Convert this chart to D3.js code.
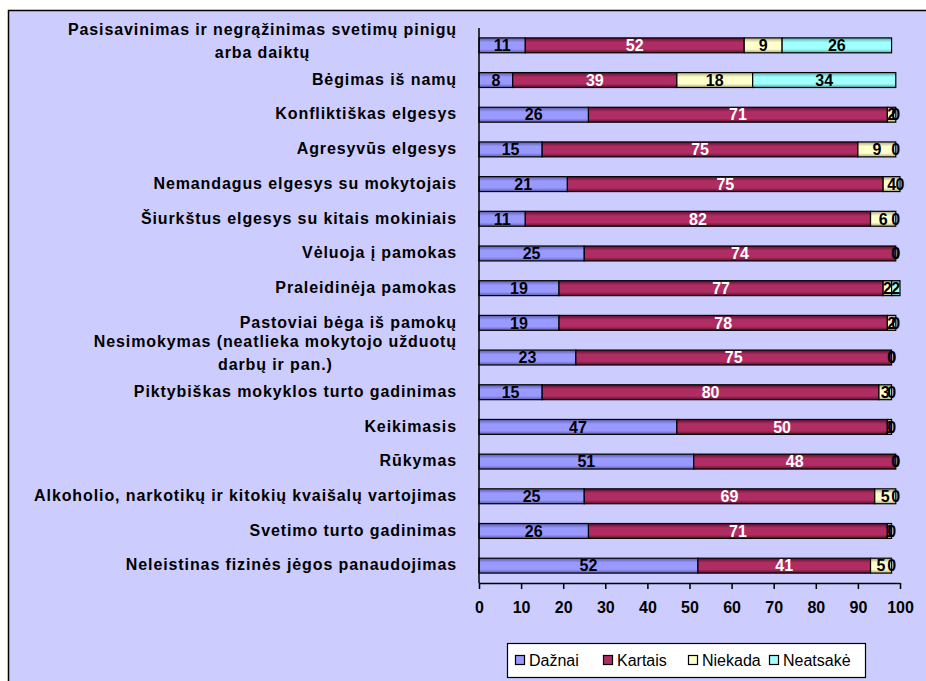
<!DOCTYPE html>
<html>
<head>
<meta charset="utf-8">
<script src="https://cdn.jsdelivr.net/npm/d3@7"></script>
<style>
  body { margin: 0; background: #fff; }
  svg { display: block; font-family: "Liberation Sans", Arial, sans-serif; }
</style>
</head>
<body>
<svg id="chart"></svg>
<script>
// categories top -> bottom
const categories = [
  "Pasisavinimas ir negrąžinimas svetimų pinigų\narba daiktų",
  "Bėgimas iš namų",
  "Konfliktiškas elgesys",
  "Agresyvūs elgesys",
  "Nemandagus elgesys su mokytojais",
  "Šiurkštus elgesys su kitais mokiniais",
  "Vėluoja į pamokas",
  "Praleidinėja pamokas",
  "Pastoviai bėga iš pamokų",
  "Nesimokymas (neatlieka mokytojo užduotų\ndarbų ir pan.)",
  "Piktybiškas mokyklos turto gadinimas",
  "Keikimasis",
  "Rūkymas",
  "Alkoholio, narkotikų ir kitokių kvaišalų vartojimas",
  "Svetimo turto gadinimas",
  "Neleistinas fizinės jėgos panaudojimas"
];
const dazhnai  = [11, 8, 26, 15, 21, 11, 25, 19, 19, 23, 15, 47, 51, 25, 26, 52];
const kartais  = [52, 39, 71, 75, 75, 82, 74, 77, 78, 75, 80, 50, 48, 69, 71, 41];
const niekada  = [9, 18, 2, 9, 4, 6, 0, 2, 2, 0, 3, 1, 0, 5, 1, 5];
const neatsake = [26, 34, 0, 0, 0, 0, 0, 2, 0, 0, 0, 0, 0, 0, 0, 0];
const seriesNames = ["Dažnai", "Kartais", "Niekada", "Neatsakė"];
const xTicks = [0, 10, 20, 30, 40, 50, 60, 70, 80, 90, 100];

const colors = ["#9999FF", "#B02D63", "#FFFFCC", "#A0FFFF"];
const darkEdge = ["#5C5CA8", "#5A1030", "#A8A880", "#5AA8A8"];
const labelColors = ["#000", "#fff", "#000", "#000"];

const W = 926, H = 681;
const svg = d3.select("#chart").attr("width", W).attr("height", H);

// frame
svg.append("rect")
  .attr("x", 8.5).attr("y", 10.5)
  .attr("width", 930).attr("height", 700)
  .attr("fill", "#CCCCFF")
  .attr("stroke", "#000").attr("stroke-width", 1.5);

const x0 = 479, x1 = 900, yTop = 28, yBot = 583;

const table = categories.map((c, i) => ({
  cat: c,
  "Dažnai": dazhnai[i], "Kartais": kartais[i],
  "Niekada": niekada[i], "Neatsakė": neatsake[i]
}));
const stacked = d3.stack().keys(seriesNames)(table);

const x = d3.scaleLinear().domain([0, 100]).range([x0, x1]);
const y = d3.scaleBand().domain(categories).range([yTop, yBot]).paddingInner(0.57).paddingOuter(0.285);

// gradients for the slight cylinder shading
const defs = svg.append("defs");
seriesNames.forEach((s, k) => {
  const g = defs.append("linearGradient").attr("id", "g" + k)
    .attr("x1", 0).attr("y1", 0).attr("x2", 0).attr("y2", 1);
  g.append("stop").attr("offset", "0%").attr("stop-color", darkEdge[k]);
  g.append("stop").attr("offset", "30%").attr("stop-color", colors[k]);
  g.append("stop").attr("offset", "75%").attr("stop-color", colors[k]);
  g.append("stop").attr("offset", "100%").attr("stop-color", darkEdge[k]);
});

// bars
const layers = svg.append("g").selectAll("g")
  .data(stacked).join("g")
  .attr("fill", (d, k) => "url(#g" + k + ")");

layers.selectAll("rect")
  .data(d => d)
  .join("rect")
    .attr("x", d => x(d[0]))
    .attr("y", d => y(d.data.cat))
    .attr("width", d => x(d[1]) - x(d[0]))
    .attr("height", y.bandwidth())
    .attr("stroke", "#000")
    .attr("stroke-width", 1.2);

// value labels
stacked.forEach((layer, k) => {
  svg.append("g").selectAll("text")
    .data(layer).join("text")
      .attr("x", d => (x(d[0]) + x(d[1])) / 2)
      .attr("y", d => y(d.data.cat) + y.bandwidth() / 2)
      .attr("dy", "0.36em")
      .attr("text-anchor", "middle")
      .attr("font-size", 16).attr("font-weight", "bold")
      .attr("fill", labelColors[k])
      .text(d => d[1] - d[0]);
});

// category labels
const catG = svg.append("g");
categories.forEach(c => {
  const lines = c.split("\n");
  const lh = 23;
  const cy = y(c) + y.bandwidth() / 2 - (lines.length > 1 ? 4 : 0);
  const t = catG.append("text")
    .attr("font-size", 16).attr("font-weight", "bold")
    .attr("letter-spacing", 0.9)
    .attr("fill", "#000");
  lines.forEach((ln, j) => {
    t.append("tspan").text(ln)
      .attr("y", cy - (lines.length - 1) * lh / 2 + j * lh - 1)
      .attr("dy", "0.36em");
  });
  // right aligned block, lines centred within it
  const spans = t.selectAll("tspan").nodes();
  const widths = spans.map(n => n.getComputedTextLength());
  const maxW = d3.max(widths);
  spans.forEach((n, j) => {
    d3.select(n).attr("x", 457 - maxW + (maxW - widths[j]) / 2);
  });
});

// axes
svg.append("line")
  .attr("x1", x0).attr("x2", x0).attr("y1", yTop).attr("y2", yBot)
  .attr("stroke", "#000").attr("stroke-width", 1.5);

const xAxis = d3.axisBottom(x).tickValues(xTicks).tickSize(6).tickPadding(13).tickSizeOuter(0);
const ax = svg.append("g").attr("transform", `translate(0,${yBot})`).call(xAxis);
ax.select(".domain").attr("stroke", "#000").attr("stroke-width", 1.5);
ax.selectAll(".tick line").attr("stroke", "#000").attr("stroke-width", 1.5);
ax.selectAll(".tick text")
  .attr("font-size", 16).attr("font-weight", "bold")
  .attr("font-family", "'Liberation Sans', Arial, sans-serif")
  .attr("fill", "#000");

// legend
const lg = svg.append("g");
lg.append("rect")
  .attr("x", 507.5).attr("y", 643.5).attr("width", 358).attr("height", 34)
  .attr("fill", "#fff").attr("stroke", "#000").attr("stroke-width", 1.2);
const legX = [515, 603, 688, 769];
seriesNames.forEach((s, k) => {
  lg.append("rect")
    .attr("x", legX[k] + 0.5).attr("y", 655.5).attr("width", 9).attr("height", 9)
    .attr("fill", colors[k]).attr("stroke", "#000").attr("stroke-width", 1.2);
  lg.append("text")
    .attr("x", legX[k] + 14).attr("y", 660).attr("dy", "0.36em")
    .attr("font-size", 16)
    .attr("fill", "#000")
    .text(s);
});
</script>
</body>
</html>
